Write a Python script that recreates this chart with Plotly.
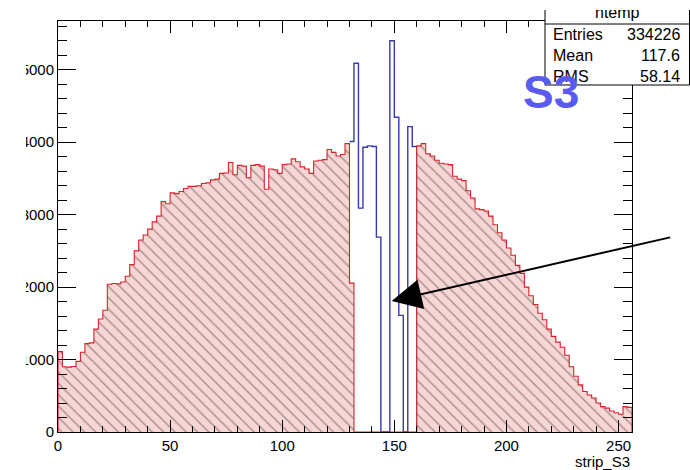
import plotly.graph_objects as go

# ---------------- data ----------------
bin_width = 2
bin_lo = list(range(0, 256, 2))  # lower edges of the 128 strip bins

red_counts = [
    1110, 900, 895, 905, 975, 1100, 1220, 1230, 1420, 1560,
    1680, 2040, 2050, 2045, 2070, 2150, 2310, 2500, 2650, 2720,
    2800, 2900, 2980, 3180, 3150, 3300, 3290, 3320, 3360, 3390,
    3390, 3400, 3430, 3440, 3480, 3490, 3570, 3575, 3720, 3550,
    3680, 3670, 3510, 3680, 3690, 3670, 3350, 3630, 3620, 3570,
    3690, 3700, 3770, 3730, 3660, 3630, 3570, 3740, 3750, 3760,
    3900, 3860, 3810, 3830, 3980, 2055,
    0, 0, 0, 0, 0, 0, 0, 0, 0, 0, 0, 0, 0, 0,
    3950, 3980, 3840, 3810, 3750, 3710, 3700, 3690, 3530, 3490,
    3470, 3330, 3230, 3080, 3070, 3050, 2980, 2860, 2750, 2650,
    2540, 2440, 2300, 2190, 2000, 1880, 1760, 1640, 1550, 1420,
    1320, 1240, 1170, 1060, 900, 770, 650, 560, 510, 470,
    400, 350, 330, 290, 265, 245, 350, 340,
]

blue_lo = list(range(130, 160, 2))
blue_counts = [4010, 5090, 3090, 3930, 3950, 3940, 2690, 0, 0, 5400,
               4345, 1610, 0, 4215, 3940]

x_ticks = [0, 50, 100, 150, 200, 250]
y_ticks = [0, 1000, 2000, 3000, 4000, 5000]
x_range = [0, 256]
y_range = [0, 5673]

stats_title = "htemp"
stats_labels = ["Entries", "Mean", "RMS"]
stats_values = ["334226", "117.6", "58.14"]
x_title = "strip_S3"
tag_text = "S3"
arrow_tip = (148.8, 1808)

# ---------------- layout helpers (pixel -> paper) ----------------
W, H = 690, 470
ML, MR, MT, MB = 58, 58, 21, 38
PW, PH = W - ML - MR, H - MT - MB


def px(x):
    return (x - ML) / PW


def py(y):
    return (H - MB - y) / PH


FONT = "Liberation Sans, Arial, Helvetica, sans-serif"

# ---------------- traces ----------------
red_x = [bin_lo[0]] + bin_lo + [bin_lo[-1] + bin_width] * 2
red_y = [0] + red_counts + [red_counts[-1], 0]

blue_x = blue_lo + [blue_lo[-1] + bin_width] * 2
blue_y = blue_counts + [blue_counts[-1], 0]

fig = go.Figure()
fig.add_trace(go.Scatter(
    x=blue_x, y=blue_y, mode="lines", line_shape="hv",
    line=dict(color="#3a3aa8", width=1.4), hoverinfo="skip",
))
fig.add_trace(go.Scatter(
    x=red_x, y=red_y, mode="lines", line_shape="hv",
    line=dict(color="#d8222a", width=1.1),
    fill="tozeroy", fillcolor="#f7d6d6",
    fillpattern=dict(shape="\\", fgcolor="#5e4444", bgcolor="#f7d6d6",
                     size=8, solidity=0.18),
    hoverinfo="skip",
))

axis_common = dict(
    showgrid=False, zeroline=False, showline=True, linecolor="black",
    linewidth=1, mirror="allticks", ticks="inside", tickcolor="black",
    tickwidth=1, tickfont=dict(family=FONT, size=15, color="black"),
)

fig.update_xaxes(range=x_range, tickvals=x_ticks, ticklen=12,
                 minor=dict(dtick=10, ticklen=6, ticks="inside",
                            tickcolor="black", showgrid=False),
                 **axis_common)
fig.update_yaxes(range=y_range, tickvals=y_ticks, ticklen=18,
                 minor=dict(dtick=200, ticklen=9, ticks="inside",
                            tickcolor="black", showgrid=False),
                 **axis_common)

shapes = [
    # stats box
    dict(type="rect", xref="paper", yref="paper", x0=px(545), x1=px(689.5),
         y0=py(85), y1=py(-5), line=dict(color="black", width=1),
         fillcolor="white", layer="above"),
    dict(type="line", xref="paper", yref="paper", x0=px(545), x1=px(689.5),
         y0=py(24), y1=py(24), line=dict(color="black", width=1), layer="above"),
    # clipping cover for the left edge of the y labels
    dict(type="rect", xref="paper", yref="paper", x0=px(-5), x1=px(26),
         y0=py(475), y1=py(-5), line=dict(width=0), fillcolor="white", layer="above"),
]

annotations = []
# stats title (its top is hidden by a white strip drawn afterwards)
annotations.append(dict(xref="paper", yref="paper", x=px(617), y=py(12.5),
                        xanchor="center", yanchor="middle", text=stats_title,
                        showarrow=False,
                        font=dict(family=FONT, size=16, color="black")))
annotations.append(dict(xref="paper", yref="paper", x=px(616), y=py(0),
                        xanchor="center", yanchor="top", text=" ",
                        width=160, height=10, bgcolor="white", borderpad=0,
                        borderwidth=0, showarrow=False,
                        font=dict(family=FONT, size=6, color="white")))

row_mid = [34.5, 55.8, 76.5]
for lab, val, ym in zip(stats_labels, stats_values, row_mid):
    annotations.append(dict(xref="paper", yref="paper", x=px(551), y=py(ym),
                            xanchor="left", yanchor="middle", text=lab,
                            showarrow=False,
                            font=dict(family=FONT, size=16, color="black")))
    annotations.append(dict(xref="paper", yref="paper", x=px(682), y=py(ym),
                            xanchor="right", yanchor="middle", text=val,
                            showarrow=False,
                            font=dict(family=FONT, size=16, color="black")))

annotations.append(dict(xref="paper", yref="paper", x=px(551.3), y=py(92),
                        xanchor="center", yanchor="middle",
                        text="<b>%s</b>" % tag_text, showarrow=False,
                        font=dict(family=FONT, size=46, color="#5a5af0")))

annotations.append(dict(xref="paper", yref="paper", x=px(632), y=py(461),
                        xanchor="right", yanchor="middle", text=x_title,
                        showarrow=False,
                        font=dict(family=FONT, size=15, color="black")))

annotations.append(dict(x=arrow_tip[0], y=arrow_tip[1], xref="x", yref="y",
                        text="", showarrow=True, ax=280, ay=-64,
                        arrowhead=2, arrowsize=3, arrowwidth=2,
                        arrowcolor="black", standoff=0))

fig.update_layout(
    width=W, height=H, margin=dict(l=ML, r=MR, t=MT, b=MB),
    plot_bgcolor="white", paper_bgcolor="white", showlegend=False,
    shapes=shapes, annotations=annotations,
    font=dict(family=FONT),
)

fig.write_html("out.html")
